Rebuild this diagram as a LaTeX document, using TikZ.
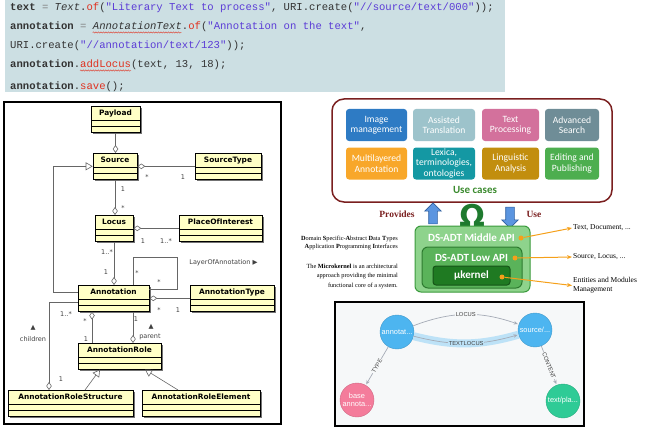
\documentclass[tikz,border=0pt]{standalone}
\usepackage{fontspec}
\setmainfont{Liberation Serif}
\setsansfont{DejaVu Sans}
\setmonofont{Liberation Mono}
\newfontfamily\calibri{Carlito}
\newfontfamily\neofont{Liberation Sans}
\usetikzlibrary{arrows.meta, shapes.arrows, shadows, decorations.pathmorphing}
\definecolor{codebg}{HTML}{CCDFE3}
\definecolor{codestr}{HTML}{5B3CD6}
\definecolor{codered}{HTML}{E0311F}
\definecolor{codetxt}{HTML}{333333}
\definecolor{codegray}{HTML}{808080}
\definecolor{umlyellow}{HTML}{FFFFC6}
\definecolor{umlline}{HTML}{666666}
\definecolor{ucborder}{HTML}{7A1F1F}
\definecolor{ucgreen}{HTML}{3B8A2E}
\definecolor{tileA}{HTML}{2E7BC4}
\definecolor{tileB}{HTML}{9DC3CB}
\definecolor{tileC}{HTML}{D3719C}
\definecolor{tileD}{HTML}{6F8D97}
\definecolor{tileE}{HTML}{F8A72A}
\definecolor{tileF}{HTML}{1498A3}
\definecolor{tileG}{HTML}{C28E0E}
\definecolor{tileH}{HTML}{4DAE4F}
\definecolor{apiA}{HTML}{8ED38C}
\definecolor{apiB}{HTML}{5AB35A}
\definecolor{apiC}{HTML}{1F7A22}
\definecolor{apiline}{HTML}{3A9A3C}
\definecolor{omegagreen}{HTML}{1E7A2E}
\definecolor{arrblue}{HTML}{5B95E0}
\definecolor{arrdark}{HTML}{2F5F9F}
\definecolor{orangeptr}{HTML}{F5A01A}
\definecolor{neoblue}{HTML}{4DB5F0}
\definecolor{neopink}{HTML}{F47C9B}
\definecolor{neogreen}{HTML}{2FCB96}
\definecolor{neoedge}{HTML}{A5ABB6}
\definecolor{neohl}{HTML}{BDE2F7}
\definecolor{neobg}{HTML}{F6F8F9}

\begin{document}
\begin{tikzpicture}[
  x=1pt, y=-1pt,
  codeline/.style={anchor=base west, inner sep=0, text=codetxt,
    font=\ttfamily\fontsize{10.6}{12}\selectfont},
  squiggle/.style={codered, line width=0.4, decorate,
    decoration={snake, amplitude=0.7, segment length=2.5}},
  cls/.style={draw, fill=umlyellow, line width=0.6, anchor=north,
    minimum height=26, inner sep=0, text height=9.5, text depth=16.5,
    font=\sffamily\bfseries\fontsize{7.4}{8}\selectfont,
    drop shadow={shadow xshift=1.6pt, shadow yshift=-1.6pt, fill=black!55, opacity=1},
    path picture={\draw[line width=0.5]
      ([yshift=-14]path picture bounding box.north west) -- ([yshift=-14]path picture bounding box.north east)
      ([yshift=-20]path picture bounding box.north west) -- ([yshift=-20]path picture bounding box.north east);}},
  agg/.style={-{Diamond[open, length=8, width=5.5]}, line width=0.6, umlline},
  gen/.style={-{Triangle[open, length=7, width=8]}, line width=0.6, umlline},
  mult/.style={font=\sffamily\fontsize{6.5}{7}\selectfont, text=black!75, inner sep=0},
  tile/.style={rounded corners=3, minimum height=32, text=white, align=center,
    font=\calibri\fontsize{9.6}{10.5}\selectfont, inner sep=1},
  blockarrow/.style={single arrow, fill=arrblue, draw=arrdark, line width=0.6,
    minimum height=21, inner sep=4, single arrow head extend=4},
  apibox/.style={draw=apiline, rounded corners=6, line width=1},
  apitxt/.style={text=white, font=\calibri\bfseries\fontsize{11}{12}\selectfont, inner sep=0},
  odot/.style={circle, fill=orangeptr, inner sep=0, minimum size=5},
  optr/.style={-{Stealth[length=5, width=4]}, orangeptr, line width=1},
  rnote/.style={anchor=west, inner sep=1, align=left, font=\fontsize{7.5}{9}\selectfont},
  note/.style={anchor=east, inner sep=0, align=right},
  neonode/.style={circle, minimum size=34, inner sep=0, text=white, align=center,
    font=\neofont\fontsize{7.4}{8}\selectfont},
  neoarrow/.style={-{Stealth[length=4, width=3.5]}, neoedge, line width=0.7, shorten >=1},
  neolbl/.style={fill=neobg, inner sep=0.8, text=black!75,
    font=\neofont\fontsize{5.8}{6}\selectfont}
]
  \useasboundingbox (0,0) rectangle (646,428);

  % Code
  \fill[codebg] (5,0) rectangle (505,92);
  \node[codeline] (c1) at (10,11) {\textbf{text} \textcolor{codegray}{=} \textit{Text}.\textcolor{codered}{of}(\textcolor{codestr}{"Literary Text to process"}, URI.create(\textcolor{codestr}{"//source/text/000"}));};
  \node[codeline] (c2) at (10,30) {\textbf{annotation} \textcolor{codegray}{=} \textit{AnnotationText}.\textcolor{codered}{of}(\textcolor{codestr}{"Annotation on the text"},};
  \node[codeline] (c3) at (10,49) {URI.create(\textcolor{codestr}{"//annotation/text/123"}));};
  \node[codeline] (c4) at (10,68) {\textbf{annotation}.\textcolor{codered}{addLocus}(text, 13, 18);};
  \node[codeline] (c5) at (10,89) {\textbf{annotation}.\textcolor{codered}{save}();};
  \draw[squiggle] ([xshift=82.7,yshift=-2.5]c2.base west) -- ++(89,0);
  \draw[squiggle] ([xshift=70,yshift=-2.5]c4.base west) -- ++(51,0);

  % UML model
  \draw[line width=1.4] (4,102) rectangle (281,424);
  \node[cls, minimum width=49] (payload) at (115.5,106) {Payload};
  \node[cls, minimum width=44] (source) at (115,153) {Source};
  \node[cls, minimum width=66] (sourcetype) at (228,153) {SourceType};
  \node[cls, minimum width=38] (locus) at (114,215) {Locus};
  \node[cls, minimum width=83] (place) at (220.5,215) {PlaceOfInterest};
  \node[cls, minimum width=71] (annotation) at (113.5,285) {Annotation};
  \node[cls, minimum width=84] (annotype) at (232,285) {AnnotationType};
  \node[cls, minimum width=83] (arole) at (119.5,343) {AnnotationRole};
  \node[cls, minimum width=125] (arstructure) at (70.5,390) {AnnotationRoleStructure};
  \node[cls, minimum width=118] (arelement) at (201,390) {AnnotationRoleElement};

  \draw[agg] (payload.south) -- (payload.south |- source.north);
  \draw[agg] (sourcetype.west) -- (source.east);
  \draw[agg] (source.south) -- (source.south |- locus.north);
  \draw[agg] (place.west) -- (locus.east);
  \draw[agg] (locus.south) -- (locus.south |- annotation.north);
  \draw[agg] (annotype.west) -- (annotation.east);
  \draw[agg] ([xshift=-27.5]arole.north) -- ([xshift=-27.5]arole.north |- annotation.south);
  \draw[agg] ([xshift=19.5]annotation.south) -- ([xshift=19.5]annotation.south |- arole.north);
  \draw[agg] ([yshift=-4]annotation.west) -| ([xshift=-21.5]arstructure.north);
  \draw[gen] ([yshift=6]annotation.west) -- ++(-24,0) |- (source.west);
  \draw[gen] ([xshift=14.5]arstructure.north) -- ([xshift=-19.5]arole.south);
  \draw[gen] ([xshift=-23]arelement.north) -- ([xshift=25.5]arole.south);
  \draw[line width=0.6, umlline] ([xshift=19.5]annotation.north) -- ++(0,-28) -- ++(44,0) |- ([yshift=9]annotation.east);

  \node[mult] (m1) at (147,177) {*};
  \node[mult] (m2) at (183,177) {1};
  \node[mult] (m3) at (123,189) {1};
  \node[mult] (m4) at (123,208) {*};
  \node[mult] (m5) at (143,241) {1};
  \node[mult] (m6) at (166,241) {1..*};
  \node[mult] (m7) at (107,252) {1..*};
  \node[mult] (m8) at (106,272) {1};
  \node[mult] (m9) at (137,273) {*};
  \node[mult] (m10) at (159,282) {*};
  \node[mult] (m11) at (159,310) {*};
  \node[mult] (m12) at (178,310) {1};
  \node[mult] (m13) at (85,321) {*};
  \node[mult] (m14) at (86,339) {1};
  \node[mult] (m15) at (136,319) {1};
  \node[mult] (m16) at (66,314) {1..*};
  \node[mult] (m17) at (61,379) {1};
  \node[mult] (layer) at (223.5,263) {LayerOfAnnotation ▶};
  \node[mult] (parentarr) at (151,327) {▲};
  \node[mult] (parent) at (150,337) {parent};
  \node[mult] (childarr) at (33,328) {▲};
  \node[mult] (children) at (33,339) {children};

  % Use cases
  \draw[ucborder, line width=1.5, rounded corners=12] (332,99) rectangle (612,202);
  \node[tile, fill=tileA, minimum width=61] (uc1) at (376.5,125) {Image\\management};
  \node[tile, fill=tileB, minimum width=62] (uc2) at (444,125) {Assisted\\Translation};
  \node[tile, fill=tileC, minimum width=57] (uc3) at (510.5,125) {Text\\Processing};
  \node[tile, fill=tileD, minimum width=54] (uc4) at (572,125) {Advanced\\Search};
  \node[tile, fill=tileE, minimum width=61] (uc5) at (376.5,163.5) {Multilayered\\Annotation};
  \node[tile, fill=tileF, minimum width=62] (uc6) at (444,163.5) {Lexica,\\terminologies,\\ontologies};
  \node[tile, fill=tileG, minimum width=57] (uc7) at (510.5,163.5) {Linguistic\\Analysis};
  \node[tile, fill=tileH, minimum width=54] (uc8) at (572,163.5) {Editing and\\Publishing};
  \node[text=ucgreen, font=\calibri\bfseries\fontsize{11}{12}\selectfont] (uclabel) at (475,190) {Use cases};

  % API layers
  \node[blockarrow, shape border rotate=90] (uparr) at (433,215.5) {};
  \node[blockarrow, shape border rotate=270] (downarr) at (510,215.5) {};
  \node[text=omegagreen, font=\sffamily\bfseries\fontsize{30}{30}\selectfont, inner sep=0] (omega) at (472,215) {Ω};
  \node[text=ucborder, font=\bfseries\fontsize{9.5}{11}\selectfont] (provides) at (397,214) {Provides};
  \node[text=ucborder, font=\bfseries\fontsize{9.5}{11}\selectfont] (use) at (534,214) {Use};
  \draw[apibox, fill=apiA] (415,226) rectangle (530,292);
  \draw[apibox, fill=apiB, draw=apiline!80!black] (422,247) rectangle (522,288);
  \draw[apibox, fill=apiC, draw=apiC!70!black, rounded corners=3] (433,266) rectangle (510,285);
  \node[apitxt] (midapi) at (471.5,238) {DS-ADT Middle API};
  \node[apitxt] (lowapi) at (471.5,258) {DS-ADT Low API};
  \node[apitxt] (ukernel) at (471.5,276) {μkernel};
  \node[odot] (dmid) at (521,238) {};
  \node[odot] (dlow) at (515,258) {};
  \node[odot] (dker) at (502,277) {};
  \node[rnote] (ltext) at (572,228) {Text, Document, ...};
  \node[rnote] (lsource) at (572,257) {Source, Locus, ...};
  \node[rnote] (lentity) at (572,285.5) {Entities and Modules\\Management};
  \draw[optr] (dmid) -- (ltext.west);
  \draw[optr] (dlow) -- (lsource.west);
  \draw[optr] (dker) -- (lentity.west);
  \node[note, font=\fontsize{6.3}{8.5}\selectfont] (dsadt) at (398,243) {\textbf{D}omain \textbf{S}pecific-\textbf{A}bstract \textbf{D}ata \textbf{T}ypes\\\textbf{A}pplication \textbf{P}rogramming \textbf{I}nterfaces};
  \node[note, font=\fontsize{6.3}{9.5}\selectfont] (mkernel) at (398,276) {The \textbf{Microkernel} is an architectural\\approach providing the minimal\\functional core of a system.};

  % Graph store
  \draw[line width=1.5, fill=neobg] (335,302) rectangle (584,426);
  \node[neonode, fill=neoblue, draw=neoblue!85!black] (nannot) at (397,332) {annotat...};
  \node[neonode, fill=neoblue, draw=neoblue!85!black] (nsource) at (535,330) {source/...};
  \node[neonode, fill=neopink, draw=neopink!85!black] (nbase) at (357,400) {base\\annota...};
  \node[neonode, fill=neogreen, draw=neogreen!85!black] (ntext) at (563,401) {text/pla...};
  \draw[neohl, line width=8] (nannot) to[bend right=15] (nsource);
  \draw[neoarrow] (nannot) to[bend left=20] node[neolbl] (elocus) {LOCUS} (nsource);
  \draw[neoarrow] (nannot) to[bend right=15] node[neolbl, fill=neohl] (etextlocus) {TEXTLOCUS} (nsource);
  \draw[neoarrow] (nannot) -- node[neolbl, sloped] (etype) {TYPE} (nbase);
  \draw[neoarrow] (nsource) -- node[neolbl, sloped] (econtent) {CONTENT} (ntext);
\end{tikzpicture}
\end{document}
